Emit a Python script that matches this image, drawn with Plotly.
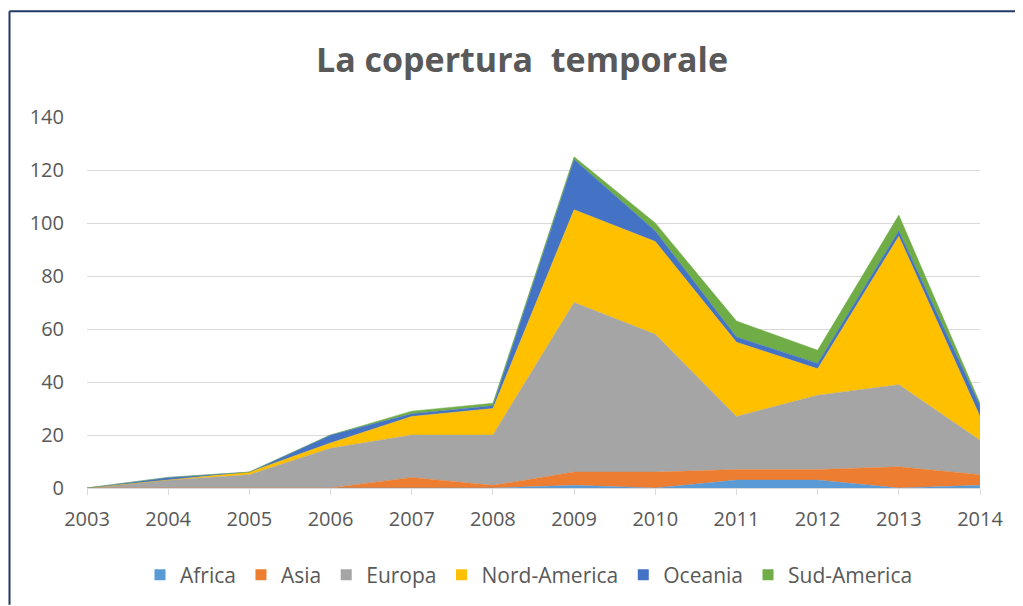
import plotly.graph_objects as go

years = [2003, 2004, 2005, 2006, 2007, 2008, 2009, 2010, 2011, 2012, 2013, 2014]
africa        = [0, 0, 0, 0, 0, 0, 1, 0, 3, 3, 0, 1]
asia          = [0, 0, 0, 0, 4, 1, 5, 6, 4, 4, 8, 4]
europa        = [0, 3, 5, 15, 16, 19, 64, 52, 20, 28, 31, 13]
nord_america  = [0, 0, 1, 2, 7, 10, 35, 35, 28, 10, 56, 9]
oceania       = [0, 1, 0, 3, 1, 1, 19, 4, 2, 2, 2, 4]
sud_america   = [0, 0, 0, 0, 1, 1, 1, 3, 6, 5, 6, 1]

series = [
    ("Africa", africa, "#5B9BD5"),
    ("Asia", asia, "#ED7D31"),
    ("Europa", europa, "#A5A5A5"),
    ("Nord-America", nord_america, "#FFC000"),
    ("Oceania", oceania, "#4472C4"),
    ("Sud-America", sud_america, "#70AD47"),
]

font_family = "Open Sans, Calibri, Liberation Sans, sans-serif"
text_color = "#595959"

fig = go.Figure()
for name, vals, color in series:
    fig.add_trace(go.Scatter(
        x=years, y=vals, name=name, stackgroup="one", mode="lines",
        line=dict(width=0.5, color=color), fillcolor=color,
        legendgroup=name, showlegend=False,
    ))
# legend entries with square swatches
for name, vals, color in series:
    fig.add_trace(go.Scatter(
        x=[None], y=[None], name=name, mode="markers",
        marker=dict(symbol="square", size=11, color=color),
        legendgroup=name, showlegend=True,
    ))

# page body has an 8px margin; figure coordinates are offset by it
OFF = 8
W, H = 1023 - OFF, 606 - OFF
plot_left, plot_right = 87 - OFF, 980 - OFF
plot_top, plot_bottom = 117 - OFF, 489 - OFF
L, R = plot_left, W - plot_right
T, B = plot_top, H - plot_bottom
pw = plot_right - plot_left
ph = plot_bottom - plot_top

frame_x = (1.5 - L) / pw
frame_y = (plot_bottom - (11 - OFF)) / ph
frame_color = "#203864"

fig.update_layout(
    width=W, height=H,
    margin=dict(l=L, r=R, t=T, b=B),
    paper_bgcolor="white", plot_bgcolor="white",
    font=dict(family=font_family, color=text_color, size=20),
    title=dict(text="<b>La copertura  temporale</b>", x=(522 - OFF - L) / pw,
               xref="paper", xanchor="center",
               y=1 - (60 - OFF) / H, yanchor="middle",
               font=dict(size=34, color=text_color, family=font_family)),
    showlegend=True,
    legend=dict(orientation="h", x=(529 - OFF - L) / pw, xanchor="center",
                y=(plot_bottom - (575 - OFF)) / ph, yanchor="middle",
                font=dict(size=21, color=text_color), traceorder="normal",
                itemwidth=30),
    xaxis=dict(range=[2003, 2014], tickmode="array", tickvals=years,
               ticktext=[str(y) for y in years], showgrid=False,
               showline=True, linecolor="#D9D9D9", linewidth=1,
               ticks="outside", ticklen=6, tickcolor="#D9D9D9",
               tickfont=dict(size=20, color=text_color), zeroline=False,
               ticklabelstandoff=7),
    yaxis=dict(range=[0, 140], dtick=20, showgrid=True, gridcolor="#D9D9D9",
               gridwidth=1, zeroline=False, showline=False,
               tickfont=dict(size=20, color=text_color), ticklabelstandoff=22),
    shapes=[
        dict(type="line", xref="paper", yref="paper",
             x0=frame_x, x1=(W - L) / pw, y0=frame_y, y1=frame_y,
             line=dict(color=frame_color, width=2), layer="below"),
        dict(type="line", xref="paper", yref="paper",
             x0=frame_x, x1=frame_x, y0=frame_y, y1=-B / ph,
             line=dict(color=frame_color, width=2), layer="below"),
    ],
)

fig.write_html("out.html", config={"displayModeBar": False})
